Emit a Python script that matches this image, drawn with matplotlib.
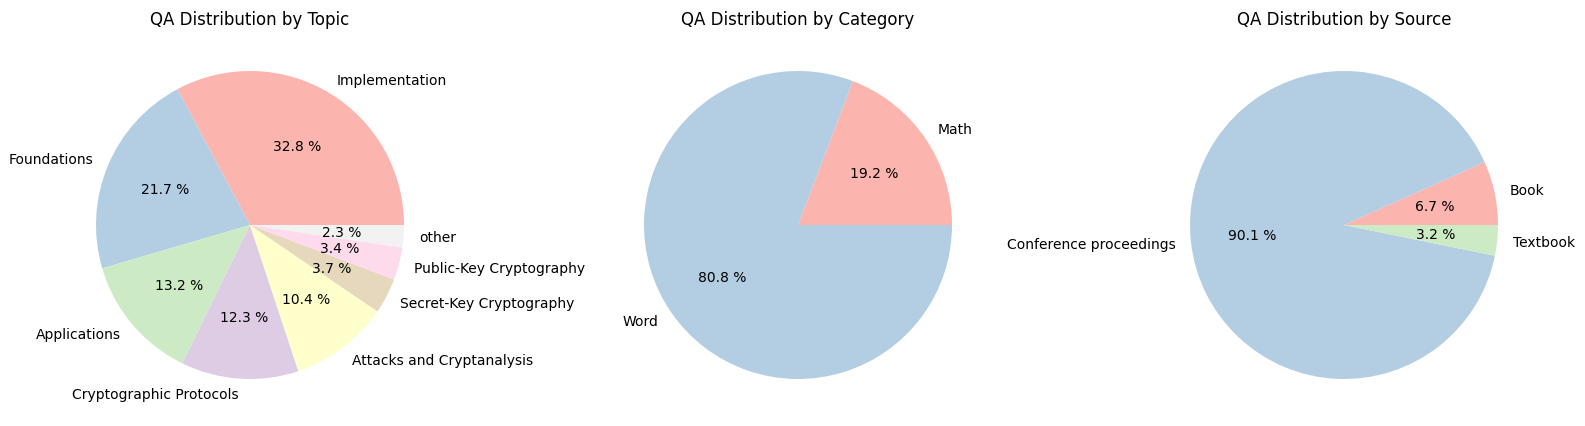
import matplotlib.pyplot as plt

# topic breakdown (percent shares)
topic_labels = ['Implementation', 'Foundations', 'Applications', 'Cryptographic Protocols',
                'Attacks and Cryptanalysis', 'Secret-Key Cryptography', 'Public-Key Cryptography', 'other']
topic_values = [32.83, 21.73, 13.23, 12.33, 10.43, 3.73, 3.43, 2.33]

category_labels = ['Math', 'Word']
category_values = [19.2, 80.8]

source_labels = ['Book', 'Conference proceedings', 'Textbook']
source_values = [6.7, 90.1, 3.2]

pastel = plt.cm.Pastel1.colors
topic_colors = [pastel[i] for i in [0, 1, 2, 3, 5, 6, 7, 8]]

fig = plt.figure(figsize=(15.85, 4.27), dpi=100)

# pie centres at x = 250, 798, 1344 px, axes box 385 px square
centres = [250, 798, 1344]
axes = []
for cx in centres:
    axes.append(fig.add_axes([(cx - 192.5) / 1585, 8.5 / 427, 385 / 1585, 385 / 427]))

axes[0].pie(topic_values, labels=topic_labels, colors=topic_colors, autopct='%.1f %%')
axes[0].set_title('QA Distribution by Topic')

axes[1].pie(category_values, labels=category_labels, colors=pastel[:2], autopct='%.1f %%')
axes[1].set_title('QA Distribution by Category')

axes[2].pie(source_values, labels=source_labels, colors=pastel[:3], autopct='%.1f %%')
axes[2].set_title('QA Distribution by Source')

plt.savefig('out.png')
